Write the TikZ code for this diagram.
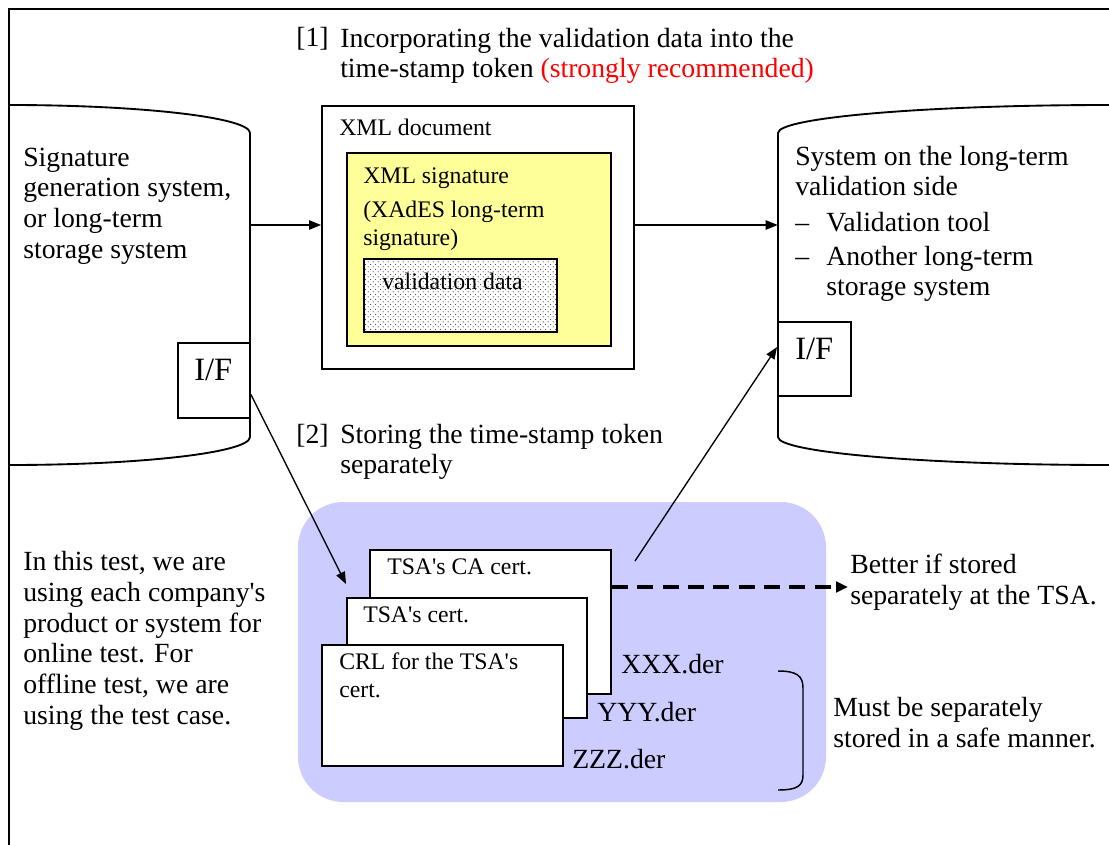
\documentclass[tikz,border=0pt]{standalone}
\usepackage{fontspec}
\setmainfont{Liberation Serif}
\newfontfamily\tnr{Liberation Serif}
\usetikzlibrary{arrows.meta,patterns,fit,calc}

\definecolor{sigyellow}{HTML}{FFFF99}
\definecolor{tsablue}{HTML}{CCCCFF}
\definecolor{recred}{HTML}{FF0000}

\newcommand\bigtxt{\fontsize{20.8}{23}\tnr}
\newcommand\smtxt{\fontsize{17.8}{20.5}\tnr}
\newcommand\iftxt{\fontsize{24.4}{28}\tnr}

% staggered dot screen for the validation data box
\pgfdeclarepatternformonly{dotscreen}{\pgfpointorigin}{\pgfpoint{4pt}{4pt}}{\pgfpoint{4pt}{4pt}}{%
  \pgfpathcircle{\pgfpoint{1pt}{1pt}}{0.5pt}%
  \pgfpathcircle{\pgfpoint{3pt}{3pt}}{0.5pt}%
  \pgfusepath{fill}}

\begin{document}
\begin{tikzpicture}[x=0.75pt,y=-0.75pt]
\tikzset{
  outline/.style={line width=1.4pt},
  boxnode/.style={draw, line width=1.4pt, inner sep=0pt, fill=white},
  region/.style={inner sep=0pt},
  arr/.style={line width=1pt, -{Triangle[length=9pt,width=7pt]}},
  dasharr/.style={line width=2.4pt, dash pattern=on 12pt off 7pt,
                  -{Triangle[length=9pt,width=8pt]}},
  % multi-line texts are placed by the baseline of their last line
  txt/.style={anchor=base west, inner sep=0pt, align=left, font=\bigtxt},
  stxt/.style={anchor=base west, inner sep=0pt, align=left, font=\smtxt},
}
\useasboundingbox (0,0) rectangle (1109,845);

% outer frame (top and left edges)
\draw[outline] (9,845) -- (9,9) -- (1109,9);

% corner points of the boxes
\path (9,105) coordinate (g1) (250,465) coordinate (g2)
      (778,105) coordinate (v1) (1109,465) coordinate (v2)
      (322,106) coordinate (x1) (634,369) coordinate (x2)
      (347,153) coordinate (s1) (611,346) coordinate (s2)
      (364,259) coordinate (d1) (557,332) coordinate (d2)
      (178,343) coordinate (l1) (250,418) coordinate (l2)
      (778,322) coordinate (r1) (851,396) coordinate (r2)
      (298,502) coordinate (t1) (826,802) coordinate (t2)
      (370,550) coordinate (a1) (611,694) coordinate (a2)
      (347,598) coordinate (b1) (587,718) coordinate (b2)
      (322,645) coordinate (c1) (563,766) coordinate (c2);

% signature generation / storage system (cylinder)
\node[region, fit=(g1)(g2)] (gensys) {};
\draw[outline] (9,105) arc[start angle=-90, end angle=0, x radius=241, y radius=28]
  -- (250,437) arc[start angle=0, end angle=90, x radius=241, y radius=28];

% long-term validation side system (cylinder)
\node[region, fit=(v1)(v2)] (valsys) {};
\draw[outline] (1109,105) arc[start angle=-90, end angle=-180, x radius=331, y radius=28]
  -- (778,437) arc[start angle=180, end angle=90, x radius=331, y radius=28];

% interfaces
\node[boxnode, fit=(l1)(l2)] (ifL) {};
\node[boxnode, fit=(r1)(r2)] (ifR) {};
\node[anchor=base west, inner sep=0pt, font=\iftxt] (ifLtxt) at (194,380) {I/F};
\node[anchor=base west, inner sep=0pt, font=\iftxt] (ifRtxt) at (795,359) {I/F};

% XML document with embedded signature
\node[boxnode, fit=(x1)(x2)] (xmldoc) {};
\node[boxnode, fill=sigyellow, fit=(s1)(s2)] (xmlsig) {};
\node[boxnode, fit=(d1)(d2)] (valdata) {};
\fill[pattern=dotscreen, pattern color=black!75] (d1) rectangle (d2);
\draw[line width=1.4pt] (d1) rectangle (d2);
\node[stxt] (xmldoctxt) at (339,136) {XML document};
\node[stxt] (xmlsigtxt) at (363,183) {XML signature};
\node[stxt] (xadestxt) at (363,245.3) {(XAdES long-term\\signature)};
\node[stxt] (valdatatxt) at (382,289) {validation data};

% TSA storage area
\node[region, fill=tsablue, rounded corners=34pt, fit=(t1)(t2)] (tsa) {};
\node[boxnode, fit=(a1)(a2)] (cacert) {};
\node[boxnode, fit=(b1)(b2)] (tsacert) {};
\node[boxnode, fit=(c1)(c2)] (crl) {};
\node[stxt] (cacerttxt) at (387,574) {TSA\textquotesingle s CA cert.};
\node[stxt] (tsacerttxt) at (363,622) {TSA\textquotesingle s cert.};
\node[stxt, font=\fontsize{17.8}{20.5}\tnr] (crltxt) at (339,697) {CRL for the TSA\textquotesingle s\\cert.};
\node[txt] (xxx) at (621,673) {XXX.der};
\node[txt] (yyy) at (597,721) {YYY.der};
\node[txt] (zzz) at (572,768) {ZZZ.der};

% bracket grouping the stored files
\draw[line width=1.1pt] (778,671) .. controls (797,671) and (803,676) .. (803,688)
  -- (803,775) .. controls (803,786) and (797,790) .. (778,790);

% texts
\node[txt] (n1) at (296,47) {[1]};
\node[txt] (title1) at (340,77.7) {Incorporating the validation data into the\\time-stamp token {\color{recred}(strongly recommended)}};
\node[txt] (n2) at (296,443) {[2]};
\node[txt] (title2) at (340,473.7) {Storing the time-stamp token\\separately};
\node[txt] (gentxt) at (23,258)
  {Signature\\generation system,\\or long-term\\storage system};
\node[txt] (valtxt) at (795,195.7) {System on the long-term\\validation side};
\node[txt] (dash1) at (795,231) {–};
\node[txt] (item1) at (826,231) {Validation tool};
\node[txt] (dash2) at (795,265) {–};
\node[txt] (item2) at (826,295.7) {Another long-term\\storage system};
\node[txt] (testtxt) at (23,724.3)
  {In this test, we are\\using each company\textquotesingle s\\product or system for\\online test. For\\offline test, we are\\using the test case.};
\node[txt] (better) at (850,604) {Better if stored\\separately at the TSA.};
\node[txt] (must) at (833,747) {Must be separately\\stored in a safe manner.};

% connectors
\coordinate (row1) at (0,225);
\coordinate (tsaIn) at (346,584);
\coordinate (tsaOut) at (635,561);
\coordinate (dashrow) at (0,587);
\coordinate (betterTip) at (848,587);
\draw[arr] (gensys.east |- row1) -- (xmldoc.west |- row1);
\draw[arr] (xmldoc.east |- row1) -- (valsys.west |- row1);
\draw[arr] ($(ifL.east)+(0,14)$) -- (tsaIn);
\draw[arr] (tsaOut) -- ($(ifR.west)+(0,-12)$);
\draw[dasharr] (cacert.east |- dashrow) -- (betterTip);
\end{tikzpicture}
\end{document}
